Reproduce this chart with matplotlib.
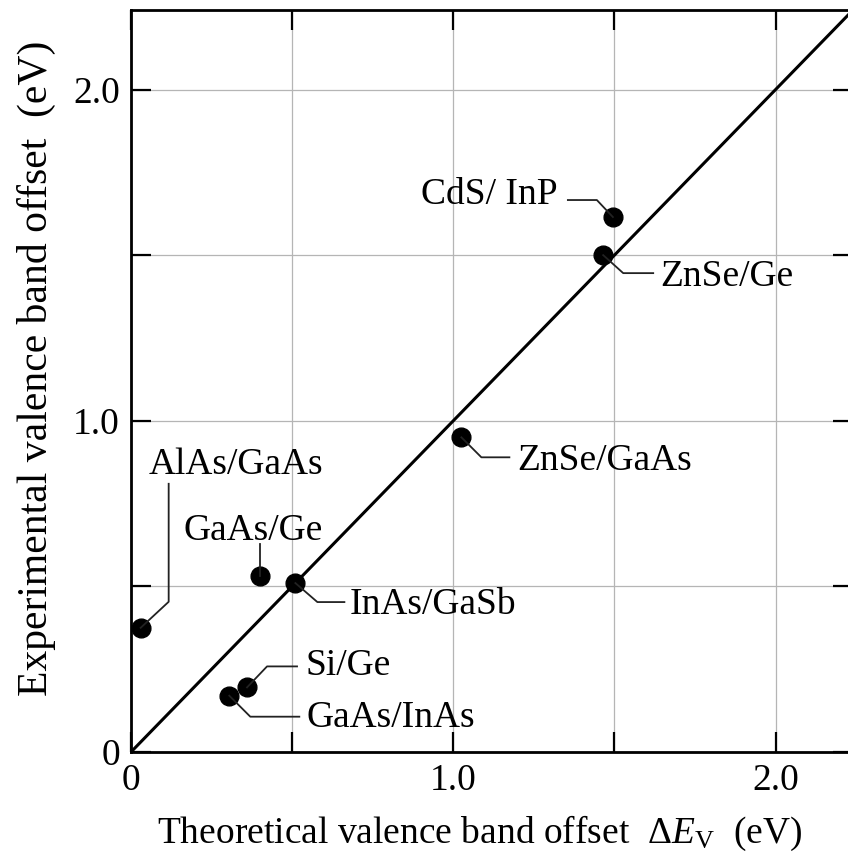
import matplotlib
matplotlib.use("Agg")
import matplotlib.pyplot as plt
import numpy as np

plt.rcParams['font.family'] = ['Liberation Serif', 'DejaVu Serif']
plt.rcParams['mathtext.fontset'] = 'custom'
plt.rcParams['mathtext.rm'] = 'Liberation Serif'
plt.rcParams['mathtext.it'] = 'Liberation Serif:italic'

# ---- data ----
names = ["AlAs/GaAs", "GaAs/Ge", "InAs/GaSb", "Si/Ge", "GaAs/InAs",
         "ZnSe/GaAs", "ZnSe/Ge", "CdS/ InP"]
theory = [0.03, 0.40, 0.51, 0.36, 0.305, 1.025, 1.465, 1.495]
expt = [0.375, 0.53, 0.51, 0.195, 0.17, 0.95, 1.50, 1.615]
tick_vals = [0, 0.5, 1.0, 1.5, 2.0]
tick_labels = ["0", "", "1.0", "", "2.0"]
ideal = [0.0, 2.3]

# leader geometry in pixels (bend, end, text offset, ha)
leaders = {
    "AlAs/GaAs": ((28, 26), (28, 144), (95, 163), 'center'),
    "GaAs/Ge": ((0, 0), (0, 32), (-7, 46), 'center'),
    "InAs/GaSb": ((22, -19), (49, -19), (54, -22), 'left'),
    "Si/Ge": ((20, 21), (50, 21), (58, 22), 'left'),
    "GaAs/InAs": ((21, -21), (70, -21), (77, -22), 'left'),
    "ZnSe/GaAs": ((20, -20), (48, -20), (56, -23), 'left'),
    "ZnSe/Ge": ((20, -18), (50, -18), (57, -22), 'left'),
    "CdS/ InP": ((-16, 17), (-45, 17), (-55, 22), 'right'),
}

W, H = 848, 859
fig = plt.figure(figsize=(W / 100, H / 100), dpi=100)
ax = fig.add_axes([131 / W, (H - 752) / H, 722 / W, 742 / H])
ax.set_xlim(0, 2.24)
ax.set_ylim(0, 2.24)

ax.grid(True, color='#b5b5b5', linewidth=0.9)
ax.set_axisbelow(True)
ax.set_xticks(tick_vals)
ax.set_xticklabels(tick_labels)
ax.set_yticks(tick_vals)
ax.set_yticklabels(tick_labels)
ax.tick_params(direction='in', length=14.5, width=1.6, labelsize=27,
               top=True, right=True, pad=8, colors='black')
for s in ax.spines.values():
    s.set_linewidth(2.0)

ax.plot(ideal, ideal, color='black', linewidth=2.2, zorder=3)
ax.scatter(theory, expt, s=13.5 ** 2, color='black', zorder=5)

fig.canvas.draw()
for n, x, y in zip(names, theory, expt):
    px, py = ax.transData.transform((x, y))
    (bx, by), (ex, ey), (tx, ty), ha = leaders[n]
    fig.lines.append(matplotlib.lines.Line2D(
        [px, px + bx, px + ex], [py, py + by, py + ey],
        color='#222222', linewidth=1.3, transform=None, zorder=4))
    fig.text((px + tx) / W, (py + ty) / H, n, ha=ha, va='center',
             fontsize=27)

fig.text(480 / W, (H - 833) / H,
         r"Theoretical valence band offset  $\Delta \mathit{E}_{\mathrm{V}}$  (eV)",
         ha='center', va='center', fontsize=27)
fig.text(36 / W, (H - 368) / H, "Experimental valence band offset  (eV)",
         ha='center', va='center', rotation=90, fontsize=30)

fig.savefig("out.png", dpi=100)
